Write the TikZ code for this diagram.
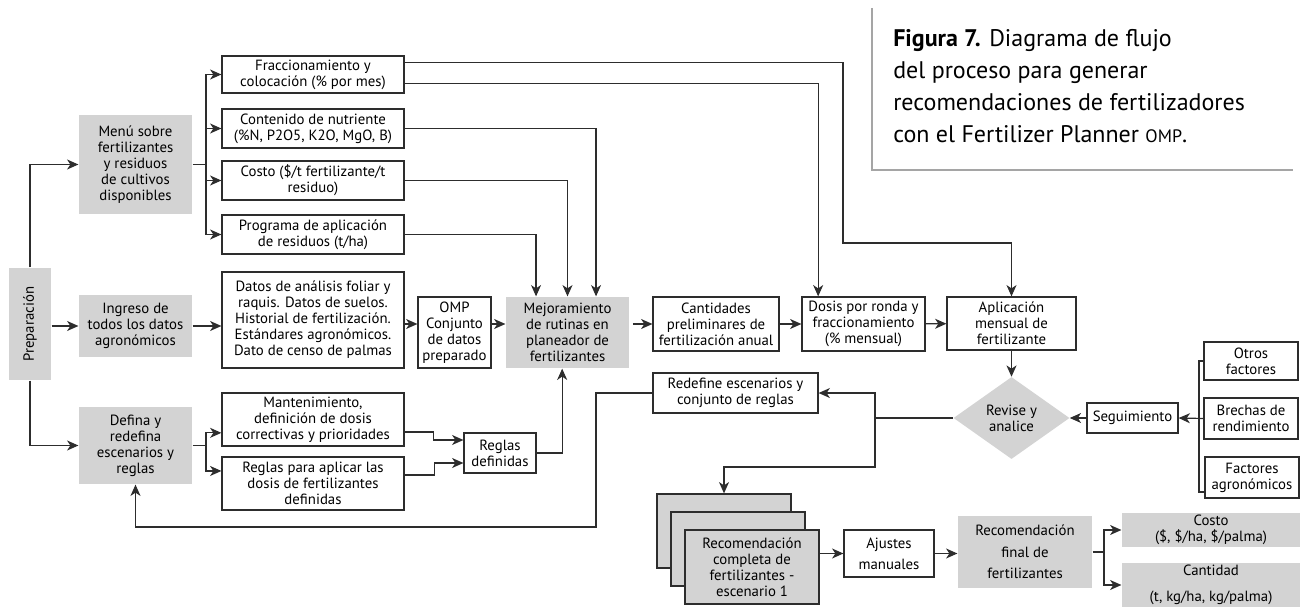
\documentclass[tikz,border=0pt]{standalone}
\usepackage{graphicx}
\usepackage{fontspec}
\setmainfont{PT Sans}
\usetikzlibrary{arrows.meta,shapes.geometric}

\definecolor{boxgray}{RGB}{211,211,211}
\definecolor{ink}{RGB}{45,45,45}
\definecolor{rulegray}{RGB}{165,165,165}

\tikzstyle{line} = [line width=0.9pt, draw=ink]
\tikzstyle{arw} = [line, -{Stealth[length=8.5pt,width=7.5pt,inset=2.5pt]}]
\tikzstyle{box} = [draw=ink, line width=0.9pt, fill=white, align=center, inner sep=0pt, font=\fontsize{11.1}{12}\selectfont]
\tikzstyle{gbox} = [box, draw=none, fill=boxgray]
\tikzstyle{sbox} = [box, fill=boxgray, minimum width=100.5pt, minimum height=55.5pt]

\begin{document}
\begin{tikzpicture}[x=0.75pt,y=-0.75pt]
\useasboundingbox (0,0) rectangle (1306,613);

% caption
\draw [rulegray, line width=0.8pt] (872,8) -- (872,170) -- (1293,170);
\node [anchor=north west, align=left, inner sep=0pt, font=\fontsize{18}{24}\selectfont] (cap) at (893,29)
{{\bfseries Figura 7.} Diagrama de flujo\\del proceso para generar\\recomendaciones de fertilizadores\\con el Fertilizer Planner {\fontsize{13.5}{12}\selectfont OMP}.};

% left column
\node [gbox, minimum width=31.5pt, minimum height=84pt] (prep) at (30,324) {\rotatebox{90}{Preparación}};
\node [gbox, minimum width=84.75pt, minimum height=74.25pt] (menu) at (135.5,164.5) {Menú sobre\\fertilizantes\\y residuos\\de cultivos\\disponibles};
\node [gbox, minimum width=84.75pt, minimum height=46.5pt] (ingreso) at (135.5,326) {Ingreso de\\todos los datos\\agronómicos};
\node [gbox, minimum width=84.75pt, minimum height=57.75pt] (defina) at (135.5,445.5) {Defina y\\redefina\\escenarios y\\reglas};

% menu items
\node [box, minimum width=136.5pt, minimum height=27.75pt] (fracc) at (313,74.5) {Fraccionamiento y\\colocación (\% por mes)};
\node [box, minimum width=136.5pt, minimum height=29.25pt] (contenido) at (313,128.5) {Contenido de nutriente\\(\%N, P2O5, K2O, MgO, B)};
\node [box, minimum width=136.5pt, minimum height=29.25pt] (costo) at (313,180.5) {Costo (\$/t fertilizante/t\\residuo)};
\node [box, minimum width=136.5pt, minimum height=29.25pt] (programa) at (313,234.5) {Programa de aplicación\\de residuos (t/ha)};

% main row
\node [box, minimum width=136.5pt, minimum height=72pt] (datos) at (313,320) {Datos de análisis foliar y\\raquis. Datos de suelos.\\Historial de fertilización.\\Estándares agronómicos.\\Dato de censo de palmas};
\node [box, minimum width=54.75pt, minimum height=53.25pt] (omp) at (454.5,332.5) {OMP\\Conjunto\\de datos\\preparado};
\node [gbox, minimum width=92.25pt, minimum height=53.25pt] (mej) at (567.5,332.5) {Mejoramiento\\de rutinas en\\planeador de\\fertilizantes};
\node [box, minimum width=94.5pt, minimum height=40.5pt] (cant) at (716,324) {Cantidades\\preliminares de\\fertilización anual};
\node [box, minimum width=92.25pt, minimum height=40.5pt] (dosis) at (863.5,324) {Dosis por ronda y\\fraccionamiento\\(\% mensual)};
\node [box, minimum width=96.75pt, minimum height=39.75pt] (apl) at (1011.5,323.5) {Aplicación\\mensual de\\fertilizante};

% review loop
\node [diamond, fill=boxgray, inner sep=0pt, minimum width=87pt, minimum height=61.5pt, align=center, font=\fontsize{11.1}{12}\selectfont] (revise) at (1011.5,418) {Revise y\\analice};
\node [box, minimum width=68.25pt, minimum height=22.5pt] (seg) at (1132.5,418) {Seguimiento};
\node [box, minimum width=70.5pt, minimum height=28.5pt] (otros) at (1251,361) {Otros\\factores};
\node [box, minimum width=70.5pt, minimum height=30.75pt] (brechas) at (1251,418.5) {Brechas de\\rendimiento};
\node [box, minimum width=70.5pt, minimum height=30.75pt] (factores) at (1252,477.5) {Factores\\agronómicos};
\node [box, minimum width=123.75pt, minimum height=30pt] (redef) at (735.5,393) {Redefine escenarios y\\conjunto de reglas};

% rules
\node [box, minimum width=136.5pt, minimum height=39.75pt] (mant) at (313,419.5) {Mantenimiento,\\definición de dosis\\correctivas y prioridades};
\node [box, minimum width=136.5pt, minimum height=39.75pt] (reglaspara) at (313,483.5) {Reglas para aplicar las\\dosis de fertilizantes\\definidas};
\node [box, minimum width=54pt, minimum height=30pt] (reglasdef) at (500,453) {Reglas\\definidas};

% output
\node [sbox] (back) at (724,531) {};
\node [sbox] (mid) at (738,549) {};
\node [sbox] (front) at (752,567) {Recomendación\\completa de\\fertilizantes -\\escenario 1};
\node [box, minimum width=67.5pt, minimum height=35.25pt, font=\fontsize{11.1}{16}\selectfont] (ajustes) at (889,553.5) {Ajustes\\manuales};
\node [gbox, minimum width=100.5pt, minimum height=54pt, font=\fontsize{11.1}{16}\selectfont] (recfinal) at (1025,552) {Recomendación\\final de\\fertilizantes};
\node [gbox, minimum width=133.5pt, minimum height=25.5pt, font=\fontsize{11.1}{11.5}\selectfont] (costo2) at (1211,530) {Costo\\(\$, \$/ha, \$/palma)};
\node [gbox, minimum width=133.5pt, minimum height=33pt, font=\fontsize{11.1}{19}\selectfont] (cantidad) at (1211,585) {Cantidad\\(t, kg/ha, kg/palma)};

% forks and bends
\coordinate (mfork) at (206,164.5);
\coordinate (dfork) at (206,445.5);
\coordinate (fr1) at (843,243);
\coordinate (rv) at (875,418);
\coordinate (rs) at (875,467);
\coordinate (fb) at (596,527);
\coordinate (rb) at (1199,361);
\coordinate (rfork) at (1104,552);

% connectors
\draw [arw] (prep.north) |- (menu.west);
\draw [arw] (prep.east |- ingreso.west) -- (ingreso.west);
\draw [arw] (prep.south) |- (defina.west);

\draw [line] (menu.east) -- (mfork);
\draw [arw] (mfork) |- (fracc.west);
\draw [arw] (mfork) |- (contenido.west);
\draw [arw] (mfork) |- (costo.west);
\draw [arw] (mfork) |- (programa.west);

\draw [arw] ([yshift=-5.25pt]fracc.north east) -| (fr1) -| (apl.north);
\draw [arw] ([yshift=7.5pt]fracc.south east) -| ([xshift=-34pt]dosis.north);
\draw [arw] (contenido.east) -| ([xshift=21.4pt]mej.north);
\draw [arw] (costo.east) -| (mej.north);
\draw [arw] (programa.east) -| ([xshift=-23.6pt]mej.north);

\draw [arw] (ingreso.east) -- (ingreso.east -| datos.west);
\draw [arw] (datos.east |- cant.west) -- (omp.west |- cant.west);
\draw [arw] (omp.east |- cant.west) -- (mej.west |- cant.west);
\draw [arw] ([xshift=2.5pt]mej.east |- cant.west) -- (cant.west);
\draw [arw] (cant) -- (dosis);
\draw [arw] (dosis) -- (apl);
\draw [arw] (apl.south) -- (revise.north);

\draw [line] (otros.west) -| (rb) |- ([yshift=-10.9pt]factores.west);
\draw [arw] (brechas.west) -- (seg.east);
\draw [arw] (seg.west) -- (revise.east);

\draw [line] (revise.west) -- (rv);
\draw [arw] (rv) |- (redef.east);
\draw [arw] (rv) -- (rs) -| (back.north);
\draw [arw] (redef.west) -| (fb) -| (defina.south);

\draw [line] (defina.east) -- (dfork);
\draw [arw] (dfork) |- ([yshift=-10pt]mant.west);
\draw [arw] (dfork) |- ([yshift=9.4pt]reglaspara.west);
\draw [arw] ([yshift=-9.4pt]mant.east) -- ++(21.75pt,0) |- ([yshift=9.75pt]reglasdef.west);
\draw [arw] ([yshift=6.4pt]reglaspara.east) -- ++(22.5pt,0) |- ([yshift=-7.5pt]reglasdef.west);
\draw [arw] (reglasdef.east) -| ([xshift=-4pt]mej.south);

\draw [arw] (front.east |- ajustes.west) -- (ajustes.west);
\draw [arw] (ajustes.east) -- (ajustes.east -| recfinal.west);
\draw [line] (recfinal.east) -- (rfork);
\draw [arw] (rfork) |- (costo2.west);
\draw [arw] (rfork) |- (cantidad.west);

\end{tikzpicture}
\end{document}
